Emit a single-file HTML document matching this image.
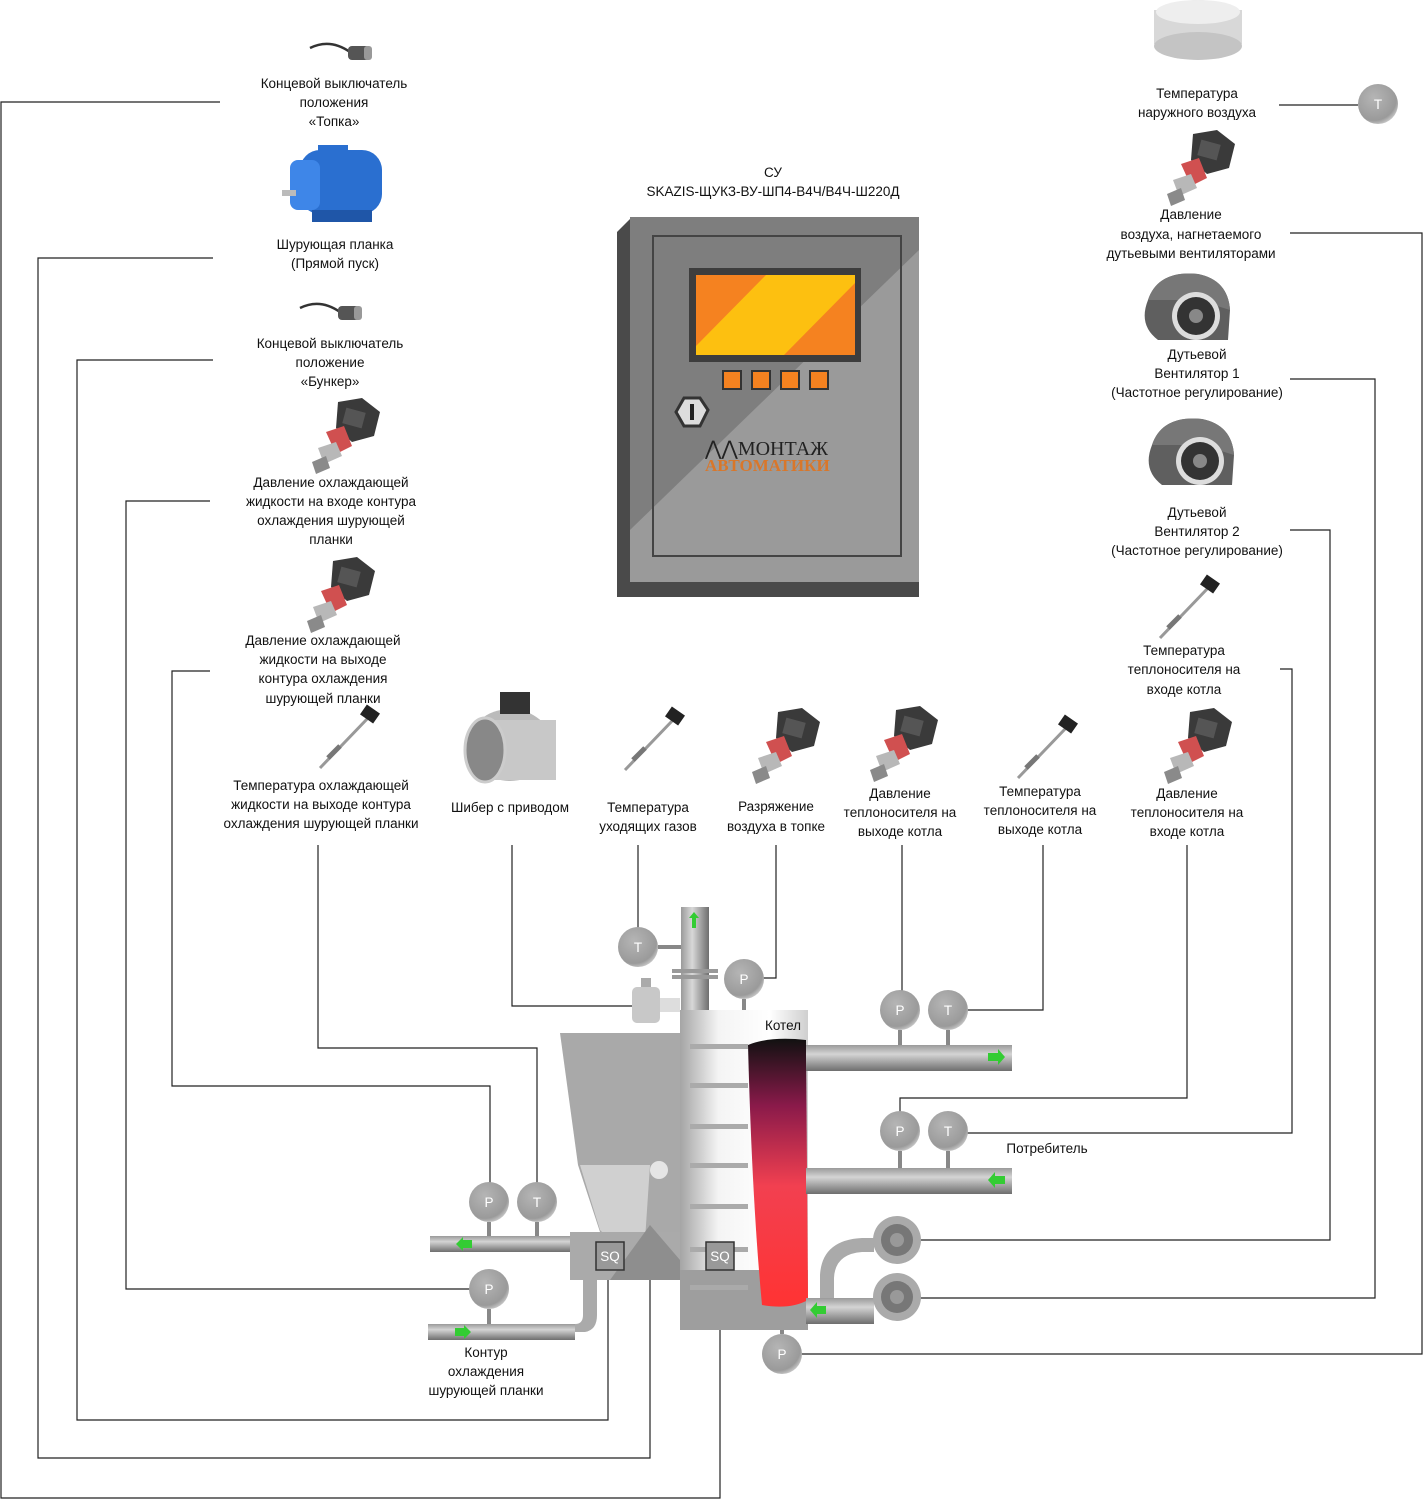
<!DOCTYPE html>
<html><head><meta charset="utf-8"><style>
html,body{margin:0;padding:0;background:#fff;}
svg{display:block;}
text{font-family:"Liberation Sans",sans-serif;font-size:13.5px;fill:#111;}
</style></head><body>
<svg width="1424" height="1500" viewBox="0 0 1424 1500" xmlns="http://www.w3.org/2000/svg">
<defs>
<linearGradient id="pipeH" x1="0" y1="0" x2="0" y2="1"><stop offset="0" stop-color="#9a9a9a"/><stop offset=".35" stop-color="#d4d4d4"/><stop offset="1" stop-color="#6e6e6e"/></linearGradient>
<linearGradient id="pipeV" x1="0" y1="0" x2="1" y2="0"><stop offset="0" stop-color="#9a9a9a"/><stop offset=".4" stop-color="#d8d8d8"/><stop offset="1" stop-color="#6e6e6e"/></linearGradient>
<linearGradient id="body" x1="0" y1="0" x2="1" y2="0"><stop offset="0" stop-color="#a5a5a5"/><stop offset=".3" stop-color="#f4f4f4"/><stop offset=".7" stop-color="#ffffff"/><stop offset="1" stop-color="#cfcfcf"/></linearGradient>
<linearGradient id="flame" x1="0" y1="0" x2="0" y2="1"><stop offset="0" stop-color="#111"/><stop offset=".25" stop-color="#8a1a4a"/><stop offset=".55" stop-color="#f24050"/><stop offset="1" stop-color="#ff3333"/></linearGradient>
<radialGradient id="gauge" cx=".4" cy=".35" r=".7"><stop offset="0" stop-color="#b5b5b5"/><stop offset=".8" stop-color="#9a9a9a"/><stop offset="1" stop-color="#cfcfcf"/></radialGradient>
<g id="psens">
<polygon points="38,4 62,0 80,14 74,38 52,44 36,30" fill="#3a3a3a"/>
<rect x="44" y="12" width="20" height="16" fill="#555" transform="rotate(15 54 20)"/>
<polygon points="26,34 44,28 52,48 36,56" fill="#d05050"/>
<polygon points="18,50 36,44 42,58 24,66" fill="#b8b8b8"/>
<polygon points="12,64 26,58 30,70 16,76" fill="#8a8a8a"/>
</g>
<g id="tsens">
<line x1="0" y1="60" x2="48" y2="10" stroke="#999" stroke-width="3"/>
<line x1="8" y1="50" x2="20" y2="38" stroke="#777" stroke-width="5"/>
<rect x="42" y="0" width="16" height="12" fill="#222" transform="rotate(35 50 6)"/>
</g>
<g id="fan">
<path d="M10,30 Q20,0 60,4 Q90,10 92,40 L90,70 L20,70 Q0,55 10,30Z" fill="#5f5f5f"/>
<path d="M10,30 Q20,0 60,4 Q90,10 92,40 L60,30 Z" fill="#777"/>
<circle cx="58" cy="46" r="24" fill="#ddd"/>
<circle cx="58" cy="46" r="19" fill="#333"/>
<circle cx="58" cy="46" r="7" fill="#888"/>
</g>
<g id="lim">
<path d="M0,6 Q20,-4 40,10" stroke="#333" stroke-width="2.5" fill="none"/>
<rect x="38" y="4" width="22" height="14" rx="4" fill="#555"/>
<rect x="54" y="4" width="8" height="14" rx="3" fill="#999"/>
</g>
<g id="gP"><circle r="20" fill="url(#gauge)" stroke="#ccc" stroke-width="1"/></g>
</defs>

<!-- wiring -->
<g fill="none" stroke="#222" stroke-width="1.2">
<polyline points="220,102 1,102 1,1498 720,1498 720,1270"/>
<polyline points="213,258 38,258 38,1458 650,1458 650,1270"/>
<polyline points="213,360 77,360 77,1420 608,1420 608,1270"/>
<polyline points="210,501 126,501 126,1289 470,1289"/>
<polyline points="210,671 172,671 172,1086 490,1086 490,1185"/>
<polyline points="318,845 318,1048 537,1048 537,1185"/>
<polyline points="512,845 512,1006 640,1006"/>
<polyline points="638,845 638,930"/>
<polyline points="776,845 776,978 762,978"/>
<polyline points="902,845 902,992"/>
<polyline points="1043,845 1043,1010 966,1010"/>
<polyline points="1187,845 1187,1098 900,1098 900,1113"/>
<polyline points="1280,669 1292,669 1292,1133 966,1133"/>
<polyline points="1290,530 1330,530 1330,1240 920,1240"/>
<polyline points="1290,379 1375,379 1375,1298 920,1298"/>
<polyline points="1290,233 1422,233 1422,1354 800,1354"/>
<polyline points="1279,105 1358,105"/>
</g>

<!-- control panel -->
<polygon points="617,232 632,217 919,217 919,597 617,597" fill="#4a4a4a"/>
<rect x="630" y="217" width="289" height="365" fill="#7e7e7e"/>
<polygon points="919,250 919,582 700,582 630,582 630,530" fill="#9a9a9a"/>
<rect x="653" y="236" width="248" height="320" fill="none" stroke="#444" stroke-width="2"/>
<rect x="689" y="268" width="172" height="94" fill="#3d3d3d"/>
<rect x="696" y="275" width="159" height="80" fill="#f58220"/>
<polygon points="766,275 855,275 855,283 784,355 696,355 696,346" fill="#fdc010"/>
<g fill="#f58220" stroke="#333" stroke-width="2"><rect x="723" y="371" width="18" height="18"/><rect x="752" y="371" width="18" height="18"/><rect x="781" y="371" width="18" height="18"/><rect x="810" y="371" width="18" height="18"/></g>
<polygon points="684,398 700,398 708,410 700,426 684,426 676,412" fill="#ddd" stroke="#333" stroke-width="3"/>
<rect x="690" y="404" width="4" height="16" fill="#222"/>
<text x="705" y="455" style="font-family:'Liberation Serif',serif;font-size:20px;fill:#222">⋀⋀МОНТАЖ</text>
<text x="705" y="471" style="font-family:'Liberation Serif',serif;font-size:17px;font-weight:bold;fill:#d9772a">АВТОМАТИКИ</text>

<!-- icons -->
<use href="#lim" x="310" y="42"/>
<use href="#lim" x="300" y="302"/>
<g>
<rect x="300" y="150" width="82" height="64" rx="20" fill="#2a6fd0"/>
<rect x="290" y="160" width="30" height="50" rx="8" fill="#3e86e8"/>
<rect x="282" y="190" width="14" height="6" fill="#bbb"/>
<rect x="312" y="210" width="60" height="12" fill="#1f56a8"/>
<rect x="318" y="145" width="30" height="12" fill="#2a6fd0"/>
</g>
<use href="#psens" x="300" y="398"/>
<use href="#psens" x="295" y="557"/>
<use href="#psens" x="740" y="708"/>
<use href="#psens" x="858" y="706"/>
<use href="#psens" x="1155" y="130"/>
<use href="#psens" x="1152" y="708"/>
<use href="#tsens" x="320" y="708"/>
<use href="#tsens" x="625" y="710"/>
<use href="#tsens" x="1018" y="718"/>
<use href="#tsens" x="1160" y="578"/>
<use href="#fan" x="1138" y="270"/>
<use href="#fan" x="1142" y="415"/>
<g>
<ellipse cx="510" cy="745" rx="42" ry="36" fill="#bbb"/>
<rect x="478" y="720" width="78" height="60" fill="#c8c8c8"/>
<ellipse cx="485" cy="750" rx="20" ry="32" fill="#888" stroke="#ccc" stroke-width="3"/>
<rect x="500" y="692" width="30" height="22" fill="#333"/>
</g>
<ellipse cx="1198" cy="30" rx="44" ry="30" fill="#ddd"/>
<rect x="1154" y="10" width="88" height="34" fill="#d8d8d8"/>
<ellipse cx="1198" cy="12" rx="42" ry="12" fill="#eee"/>
<ellipse cx="1198" cy="46" rx="44" ry="14" fill="#c4c4c4"/>
<circle cx="1378" cy="104" r="20" fill="url(#gauge)"/>
<text x="1378" y="109" text-anchor="middle" style="fill:#fff">T</text>

<!-- boiler -->
<rect x="681" y="907" width="28" height="126" fill="url(#pipeV)"/>
<rect x="672" y="969" width="46" height="4" fill="#999"/><rect x="672" y="975" width="46" height="4" fill="#999"/>
<polygon points="694,912 689,918 692,918 692,928 696,928 696,918 699,918" fill="#3c3"/>
<line x1="658" y1="947" x2="681" y2="947" stroke="#888" stroke-width="4"/>
<rect x="632" y="987" width="28" height="36" rx="5" fill="#c8c8c8"/>
<rect x="660" y="998" width="20" height="14" fill="#ddd"/>
<rect x="641" y="978" width="10" height="9" fill="#aaa"/>
<line x1="744" y1="999" x2="744" y2="1020" stroke="#888" stroke-width="4"/>
<polygon points="560,1033 680,1033 680,1232 600,1232 578,1165" fill="#a9a9a9"/>
<rect x="680" y="1010" width="128" height="320" fill="url(#body)"/>
<rect x="680" y="1270" width="128" height="60" fill="#9e9e9e"/>
<g fill="#aaa"><rect x="690" y="1044" width="58" height="5"/><rect x="690" y="1083" width="58" height="5"/><rect x="690" y="1124" width="58" height="5"/><rect x="690" y="1163" width="58" height="5"/><rect x="690" y="1204" width="58" height="5"/><rect x="690" y="1247" width="58" height="5"/><rect x="690" y="1285" width="58" height="5"/></g>
<path d="M748,1045 Q770,1036 806,1040 L808,1300 Q790,1310 762,1305 Q752,1200 748,1045Z" fill="url(#flame)"/>
<text x="783" y="1030" text-anchor="middle">Котел</text>
<rect x="806" y="1045" width="206" height="26" fill="url(#pipeH)"/>
<rect x="806" y="1168" width="206" height="26" fill="url(#pipeH)"/>
<polygon points="988,1053 998,1053 998,1049 1005,1057 998,1065 998,1061 988,1061" fill="#3c3"/>
<polygon points="1005,1176 995,1176 995,1172 988,1180 995,1188 995,1184 1005,1184" fill="#3c3"/>
<g stroke="#888" stroke-width="4"><line x1="900" y1="1030" x2="900" y2="1045"/><line x1="948" y1="1030" x2="948" y2="1045"/><line x1="900" y1="1151" x2="900" y2="1168"/><line x1="948" y1="1151" x2="948" y2="1168"/><line x1="489" y1="1222" x2="489" y2="1237"/><line x1="537" y1="1222" x2="537" y2="1237"/><line x1="489" y1="1309" x2="489" y2="1325"/><line x1="782" y1="1330" x2="782" y2="1334"/></g>
<polygon points="580,1165 650,1165 645,1240 620,1250 600,1230" fill="#d0d0d0"/>
<circle cx="659" cy="1170" r="9" fill="#e5e5e5"/>
<rect x="570" y="1232" width="110" height="48" fill="#aaa"/>
<polygon points="610,1280 650,1225 680,1260 680,1280" fill="#8e8e8e"/>
<rect x="596" y="1242" width="28" height="28" fill="#999" stroke="#333" stroke-width="1.5"/>
<text x="610" y="1261" text-anchor="middle" style="fill:#fff">SQ</text>
<rect x="706" y="1242" width="28" height="28" fill="#999" stroke="#333" stroke-width="1.5"/>
<text x="720" y="1261" text-anchor="middle" style="fill:#fff">SQ</text>
<rect x="430" y="1236" width="140" height="16" fill="url(#pipeH)"/>
<rect x="428" y="1324" width="147" height="16" fill="url(#pipeH)"/>
<path d="M575,1332 L585,1332 Q597,1330 597,1315 L597,1280 L583,1280 L583,1315 Q583,1324 575,1324Z" fill="#aaa"/>
<polygon points="472,1240 463,1240 463,1237 456,1244 463,1251 463,1248 472,1248" fill="#3c3"/>
<polygon points="455,1328 464,1328 464,1325 471,1332 464,1339 464,1336 455,1336" fill="#3c3"/>
<rect x="806" y="1298" width="68" height="26" fill="url(#pipeH)"/>
<path d="M820,1298 L820,1275 Q822,1240 862,1238 L874,1238 L874,1252 L862,1252 Q835,1254 834,1278 L834,1298Z" fill="#aaa"/>
<polygon points="826,1306 817,1306 817,1302 810,1310 817,1318 817,1314 826,1314" fill="#3c3"/>
<g><circle cx="897" cy="1240" r="24" fill="#aaa"/><circle cx="897" cy="1240" r="16" fill="#777"/><circle cx="897" cy="1240" r="7" fill="#999"/></g>
<g><circle cx="897" cy="1297" r="24" fill="#aaa"/><circle cx="897" cy="1297" r="16" fill="#777"/><circle cx="897" cy="1297" r="7" fill="#999"/></g>

<!-- gauges -->
<g style="fill:#fff" text-anchor="middle">
<circle cx="638" cy="947" r="20" fill="url(#gauge)"/><text x="638" y="952" style="fill:#fff">T</text>
<circle cx="744" cy="979" r="20" fill="url(#gauge)"/><text x="744" y="984" style="fill:#fff">P</text>
<circle cx="900" cy="1010" r="20" fill="url(#gauge)"/><text x="900" y="1015" style="fill:#fff">P</text>
<circle cx="948" cy="1010" r="20" fill="url(#gauge)"/><text x="948" y="1015" style="fill:#fff">T</text>
<circle cx="900" cy="1131" r="20" fill="url(#gauge)"/><text x="900" y="1136" style="fill:#fff">P</text>
<circle cx="948" cy="1131" r="20" fill="url(#gauge)"/><text x="948" y="1136" style="fill:#fff">T</text>
<circle cx="489" cy="1202" r="20" fill="url(#gauge)"/><text x="489" y="1207" style="fill:#fff">P</text>
<circle cx="537" cy="1202" r="20" fill="url(#gauge)"/><text x="537" y="1207" style="fill:#fff">T</text>
<circle cx="489" cy="1289" r="20" fill="url(#gauge)"/><text x="489" y="1294" style="fill:#fff">P</text>
<circle cx="782" cy="1354" r="20" fill="url(#gauge)"/><text x="782" y="1359" style="fill:#fff">P</text>
</g>

<!-- labels -->
<g text-anchor="middle">
<text x="773" y="177">СУ</text>
<text x="773" y="196">SKAZIS-ЩУКЗ-ВУ-ШП4-В4Ч/В4Ч-Ш220Д</text>
<text x="334" y="88">Концевой выключатель</text><text x="334" y="107">положения</text><text x="334" y="126">«Топка»</text>
<text x="335" y="249">Шурующая планка</text><text x="335" y="268">(Прямой пуск)</text>
<text x="330" y="348">Концевой выключатель</text><text x="330" y="367">положение</text><text x="330" y="386">«Бункер»</text>
<text x="331" y="487">Давление охлаждающей</text><text x="331" y="506">жидкости на входе контура</text><text x="331" y="525">охлаждения шурующей</text><text x="331" y="544">планки</text>
<text x="323" y="645">Давление охлаждающей</text><text x="323" y="664">жидкости на выходе</text><text x="323" y="683">контура охлаждения</text><text x="323" y="703">шурующей планки</text>
<text x="321" y="790">Температура охлаждающей</text><text x="321" y="809">жидкости на выходе контура</text><text x="321" y="828">охлаждения шурующей планки</text>
<text x="510" y="812">Шибер с приводом</text>
<text x="648" y="812">Температура</text><text x="648" y="831">уходящих газов</text>
<text x="776" y="811">Разряжение</text><text x="776" y="831">воздуха в топке</text>
<text x="900" y="798">Давление</text><text x="900" y="817">теплоносителя на</text><text x="900" y="836">выходе котла</text>
<text x="1040" y="796">Температура</text><text x="1040" y="815">теплоносителя на</text><text x="1040" y="834">выходе котла</text>
<text x="1187" y="798">Давление</text><text x="1187" y="817">теплоносителя на</text><text x="1187" y="836">входе котла</text>
<text x="1197" y="98">Температура</text><text x="1197" y="117">наружного воздуха</text>
<text x="1191" y="219">Давление</text><text x="1191" y="239">воздуха, нагнетаемого</text><text x="1191" y="258">дутьевыми вентиляторами</text>
<text x="1197" y="359">Дутьевой</text><text x="1197" y="378">Вентилятор 1</text><text x="1197" y="397">(Частотное регулирование)</text>
<text x="1197" y="517">Дутьевой</text><text x="1197" y="536">Вентилятор 2</text><text x="1197" y="555">(Частотное регулирование)</text>
<text x="1184" y="655">Температура</text><text x="1184" y="674">теплоносителя на</text><text x="1184" y="694">входе котла</text>
<text x="486" y="1357">Контур</text><text x="486" y="1376">охлаждения</text><text x="486" y="1395">шурующей планки</text>
<text x="1047" y="1153">Потребитель</text>
</g>
</svg>
</body></html>
